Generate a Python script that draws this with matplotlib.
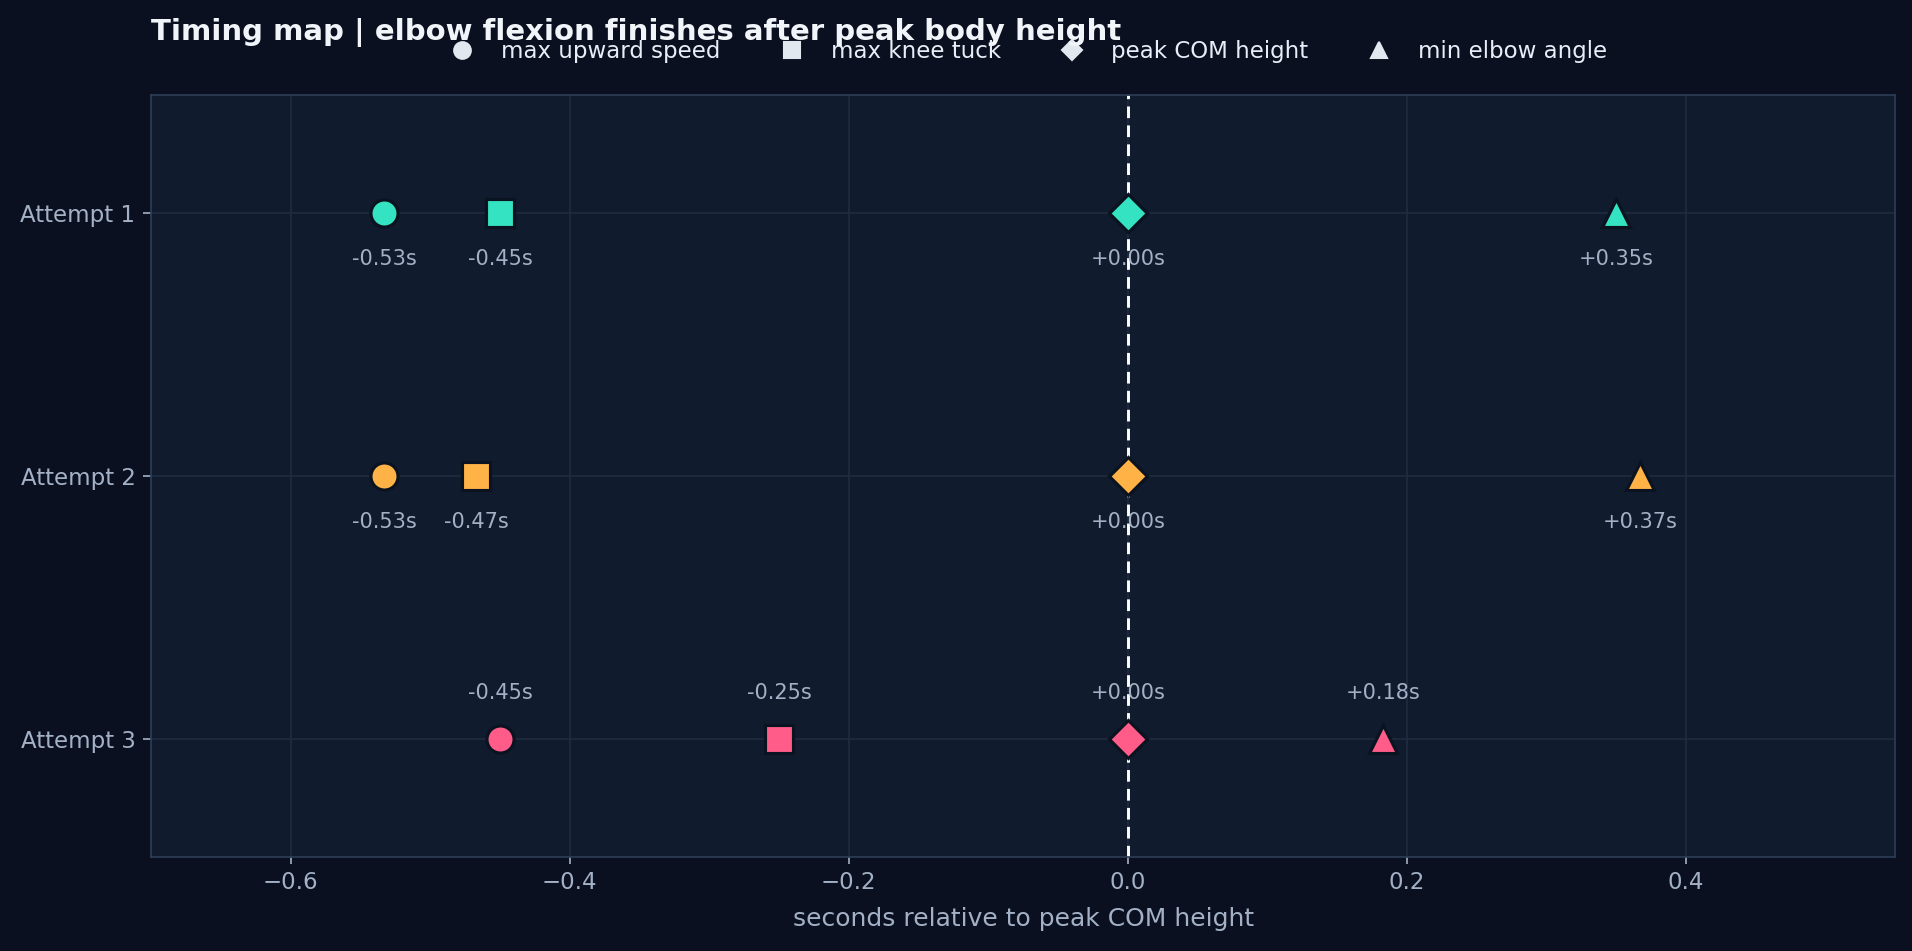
import numpy as np
import matplotlib.pyplot as plt
from matplotlib.lines import Line2D

attempts = ["Attempt 1", "Attempt 2", "Attempt 3"]
events = ["max upward speed", "max knee tuck", "peak COM height", "min elbow angle"]
markers = ["o", "s", "D", "^"]
colors = ["#34e3c1", "#ffb347", "#ff5c8a"]

# seconds relative to peak COM height, one row per attempt
speed_t = [-0.533, -0.533, -0.450]
tuck_t = [-0.450, -0.467, -0.250]
peak_t = [0.0, 0.0, 0.0]
elbow_t = [0.350, 0.367, 0.183]

BG = "#0a1020"
AX_BG = "#111b2e"
TXT = "#a3b1c6"

fig, ax = plt.subplots(figsize=(12.75, 6.34), dpi=150)
fig.patch.set_facecolor(BG)
ax.set_facecolor(AX_BG)
fig.subplots_adjust(left=0.079, right=0.991, top=0.9, bottom=0.099)

ax.grid(True, color="#1f2b40", linewidth=0.8, zorder=0)
ax.axvline(0, color="white", linestyle=(0, (4, 2.5)), linewidth=1.4, zorder=2)

series = [speed_t, tuck_t, peak_t, elbow_t]
msizes = {"o": 13, "s": 13, "D": 13, "^": 13}
for i, name in enumerate(attempts):
    for j, vals in enumerate(series):
        x = vals[i]
        ax.plot(x, i, marker=markers[j], markersize=msizes[markers[j]], color=colors[i],
                markeredgecolor="#0b1220", markeredgewidth=1.5, linestyle="none", zorder=3)
        dy = -22 if i == 2 else 22
        ax.annotate(f"{x:+.2f}s", (x, i), xytext=(0, -dy), textcoords="offset points",
                    ha="center", va="center", fontsize=10, color=TXT, zorder=4)

ax.set_xlim(-0.7, 0.55)
ax.set_ylim(2.45, -0.45)
ax.set_yticks(range(len(attempts)))
ax.set_yticklabels(attempts)
ax.tick_params(colors=TXT, labelsize=11)
ax.tick_params(axis="y", length=4)
ax.set_xlabel("seconds relative to peak COM height", color=TXT, fontsize=12, labelpad=6)
for s in ax.spines.values():
    s.set_color("#2e3d57")

handles = [Line2D([], [], marker=m, linestyle="none", color="#e2e8f0",
                  markersize=8 if m != "D" else 7) for m in markers]
ax.legend(handles, events, loc="center", bbox_to_anchor=(0.5, 1.057), ncol=4,
          frameon=False, fontsize=11, labelcolor="#e8eef7", handletextpad=0.7,
          columnspacing=2.1)

fig.text(0.079, 0.958, "Timing map | elbow flexion finishes after peak body height",
         color="#f1f5f9", fontsize=14, fontweight="bold", ha="left", va="baseline")

plt.savefig("out.png", facecolor=BG)
